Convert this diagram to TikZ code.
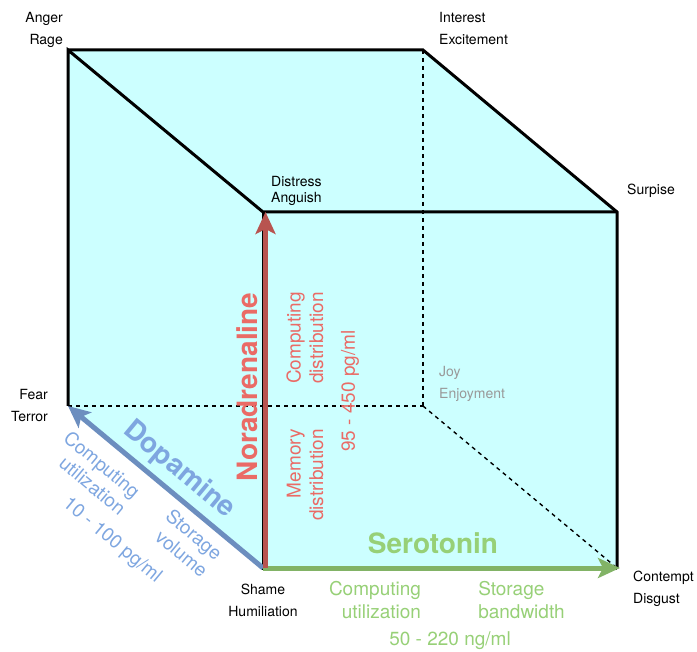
\documentclass[tikz,border=0pt]{standalone}
\usepackage{fontspec}
\setmainfont{TeX Gyre Heros}
\usepackage{xcolor}
\usetikzlibrary{arrows.meta}

\definecolor{cubefill}{HTML}{CCFFFF}
\definecolor{noradark}{HTML}{B85450}
\definecolor{noralight}{HTML}{EA6B66}
\definecolor{dopadark}{HTML}{6C8EBF}
\definecolor{dopalight}{HTML}{7EA6E0}
\definecolor{serodark}{HTML}{82B366}
\definecolor{serolight}{HTML}{97D077}

\tikzset{
  cubeedge/.style={line width=3pt, line join=miter},
  hiddenedge/.style={line width=1.4pt, dash pattern=on 4pt off 4pt},
  hormone/.style={line width=5pt, -{Stealth[length=22pt,width=20pt,inset=5pt]}},
  cornerlabel/.style={font=\fontsize{14}{22}\selectfont, inner sep=0pt},
  hintlabel/.style={font=\fontsize{19}{22.5}\selectfont, inner sep=0pt},
  hormonename/.style={font=\fontsize{28}{30}\selectfont\bfseries, inner sep=0pt},
}

\begin{document}
\begin{tikzpicture}[x=1pt, y=-1pt]
\useasboundingbox (0,0) rectangle (697,652);

% corners of the cube
\coordinate (anger) at (68,50);
\coordinate (interest) at (423,50);
\coordinate (distress) at (263,212);
\coordinate (surprise) at (617,212);
\coordinate (fear) at (68,406);
\coordinate (joy) at (423,406);
\coordinate (shame) at (263,568);
\coordinate (contempt) at (617,568);

\fill[cubefill] (anger) -- (interest) -- (surprise) -- (contempt) -- (shame) -- (fear) -- cycle;

% hidden edges
\draw[hiddenedge] (fear) -- (joy);
\draw[hiddenedge] (interest) -- (joy);
\draw[hiddenedge] (joy) -- (contempt);

% visible edges
\draw[cubeedge] (anger) -- (interest) -- (surprise) -- (contempt);
\draw[cubeedge] (fear) -- (anger) -- (distress) -- (surprise);
\draw[cubeedge] (distress) -- (shame) -- (contempt);

% the three axes
\draw[hormone, dopadark] (shame) -- (fear);
\draw[hormone, serodark] (shame) -- ([xshift=3pt]contempt);
\draw[hormone, noradark] ([xshift=2.5pt]shame) -- ([xshift=2.5pt]distress);

% corner labels
\node[cornerlabel, anchor=east, align=right] (angerlbl) at (63,30) {Anger\\Rage};
\node[cornerlabel, anchor=west, align=left] (interestlbl) at (439,29) {Interest\\Excitement};
\node[cornerlabel, font=\fontsize{14}{16}\selectfont, anchor=west, align=left] (distresslbl) at (271,191) {Distress\\Anguish};
\node[cornerlabel, anchor=west] (surpriselbl) at (627,191) {Surpise};
\node[cornerlabel, anchor=east, align=right] (fearlbl) at (48,406) {Fear\\Terror};
\node[cornerlabel, anchor=west, align=left, text=black!40] (joylbl) at (439,384) {Joy\\Enjoyment};
\node[cornerlabel, align=center] (shamelbl) at (263,600) {Shame\\Humiliation};
\node[cornerlabel, anchor=west, align=left] (contemptlbl) at (633,589) {Contempt\\Disgust};

% Dopamine
\node[hormonename, text=dopalight, rotate=-39.7] (dopa) at (179,470) {Dopamine};
\node[hintlabel, text=dopalight, rotate=-39.7, align=right] (dopacomp) at (95,473) {Computing\\utilization};
\node[hintlabel, text=dopalight, rotate=-39.7, align=right] (dopastor) at (187,543) {Storage\\volume};
\node[hintlabel, text=dopalight, rotate=-39.7] (dopaval) at (112,541) {10 - 100 pg/ml};

% Noradrenaline
\node[hormonename, text=noralight, rotate=90] (nora) at (247,387) {Noradrenaline};
\node[hintlabel, text=noralight, rotate=90, align=center] (noracomp) at (305,338) {Computing\\distribution};
\node[hintlabel, text=noralight, rotate=90, align=right] (noramem) at (305,475) {Memory\\distribution};
\node[hintlabel, text=noralight, rotate=90] (noraval) at (350,391) {95 - 450 pg/ml};

% Serotonin
\node[hormonename, text=serolight] (sero) at (433,543) {Serotonin};
\node[hintlabel, text=serolight, align=right] (serocomp) at (375,600) {Computing\\utilization};
\node[hintlabel, text=serolight, align=left] (serostor) at (521.5,600) {Storage\\bandwidth};
\node[hintlabel, text=serolight] (seroval) at (450,641) {50 - 220 ng/ml};

\end{tikzpicture}
\end{document}
